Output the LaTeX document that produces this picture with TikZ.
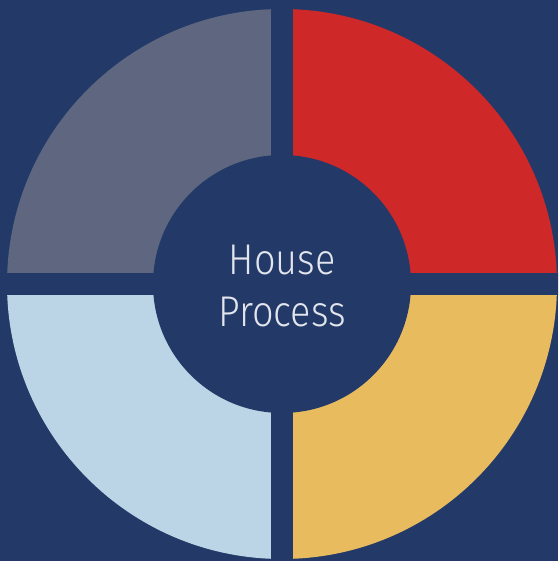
\documentclass[tikz,border=0pt]{standalone}
\usepackage{fontspec}
\newfontfamily\lblfont{Fira Sans Light}[FakeStretch=0.88]
\definecolor{bgnavy}{HTML}{233A69}
\definecolor{seggray}{HTML}{5E6680}
\definecolor{segred}{HTML}{CF2828}
\definecolor{segyellow}{HTML}{E8BC5E}
\definecolor{segblue}{HTML}{BCD5E6}
\definecolor{txtlight}{HTML}{E2E5EC}
\tikzset{
  segfill/.style={fill=#1},
  titlelabel/.style={text=txtlight, align=center, inner sep=0pt,
    font=\lblfont\fontsize{43}{52}\selectfont}
}
\begin{document}
\begin{tikzpicture}[x=1pt,y=1pt]
\useasboundingbox (0,0) rectangle (558,561);
\fill[bgnavy] (0,0) rectangle (558,561);
\coordinate (c) at (282,277);
\begin{scope}
\clip (0,0) rectangle (558,561);
\fill[segfill=segred] (c) -- ++(0:275) arc[start angle=0,end angle=90,radius=275] -- cycle;
\fill[segfill=seggray] (c) -- ++(90:275) arc[start angle=90,end angle=180,radius=275] -- cycle;
\fill[segfill=segblue] (c) -- ++(180:275) arc[start angle=180,end angle=270,radius=275] -- cycle;
\fill[segfill=segyellow] (c) -- ++(270:275) arc[start angle=270,end angle=360,radius=275] -- cycle;
\fill[bgnavy] ([xshift=-300pt,yshift=-11pt]c) rectangle ([xshift=300pt,yshift=11pt]c);
\fill[bgnavy] ([xshift=-11pt,yshift=-300pt]c) rectangle ([xshift=11pt,yshift=300pt]c);
\fill[bgnavy] (c) circle[radius=129];
\end{scope}
\node[titlelabel] (title) at ([xshift=0pt,yshift=-2.5pt]c) {House\\Process};
\end{tikzpicture}
\end{document}
